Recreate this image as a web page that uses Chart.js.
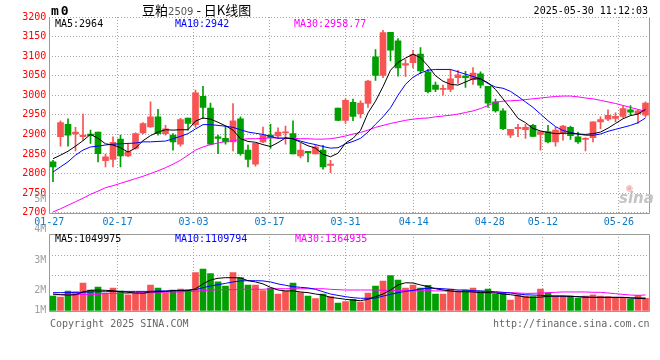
<!DOCTYPE html>
<html><head><meta charset="utf-8">
<script src="https://cdn.jsdelivr.net/npm/chart.js@4.4.1/dist/chart.umd.min.js"></script>
<style>
html,body{margin:0;padding:0;background:#fff;}
#wrap{position:relative;width:660px;height:360px;overflow:hidden;font-family:"DejaVu Sans Mono",monospace;font-size:10px;color:#000;}
canvas{position:absolute;left:0;top:0;}
.t{position:absolute;white-space:nowrap;line-height:12px;}
</style></head><body>
<div id="wrap">
<canvas id="pc" width="660" height="360"></canvas>
<canvas id="vc" width="660" height="360"></canvas>
<div class="t" style="left:51px;top:5px;font-weight:bold;font-size:13px;letter-spacing:2px;">m0</div>
<div class="t" style="left:142px;top:2px;font-size:13px;line-height:15px;font-family:'Noto Sans CJK SC',sans-serif;">豆粕<span style="font-family:'DejaVu Sans',sans-serif;font-size:10px;color:#555;">2509</span> - 日K线图</div>
<div class="t" style="right:12px;top:5px;">2025-05-30 11:12:03</div>
<div class="t" style="left:55px;top:17.5px;color:#000;">MA5:2964</div>
<div class="t" style="left:175px;top:17.5px;color:#0000ff;">MA10:2942</div>
<div class="t" style="left:294px;top:17.5px;color:#ff00ff;">MA30:2958.77</div>
<div class="t" style="left:55px;top:232.5px;color:#000;">MA5:1049975</div>
<div class="t" style="left:175px;top:232.5px;color:#0000ff;">MA10:1109794</div>
<div class="t" style="left:295px;top:232.5px;color:#ff00ff;">MA30:1364935</div>
<div class="t" style="left:50px;top:317.5px;color:#666;">Copyright 2025 SINA.COM</div>
<div class="t" style="left:493px;top:317.5px;color:#666;">http://finance.sina.com.cn</div>
<div class="t" style="left:626px;top:182px;color:#f2b0b0;font-size:11px;">◉</div>
<div class="t" style="left:619px;top:192px;color:#c4c4c4;font-size:15px;font-style:italic;font-weight:bold;font-family:'DejaVu Sans',sans-serif;">sina</div>
</div>
<script>
const dates = ['01-27',
'02-05','02-06','02-07','02-10','02-11','02-12','02-13','02-14',
'02-17','02-18','02-19','02-20','02-21',
'02-24','02-25','02-26','02-27','02-28',
'03-03','03-04','03-05','03-06','03-07',
'03-10','03-11','03-12','03-13','03-14',
'03-17','03-18','03-19','03-20','03-21',
'03-24','03-25','03-26','03-27','03-28',
'03-31','04-01','04-02','04-03',
'04-07','04-08','04-09','04-10','04-11',
'04-14','04-15','04-16','04-17','04-18',
'04-21','04-22','04-23','04-24','04-25',
'04-28','04-29','04-30',
'05-06','05-07','05-08','05-09',
'05-12','05-13','05-14','05-15','05-16',
'05-19','05-20','05-21','05-22','05-23',
'05-26','05-27','05-28','05-29','05-30'];

const open  = [2830,2894,2926,2901,2894,2901,2906,2833,2836,2888, 2845,2864,2904,2919,2945,2902,2898,2875,2942,2925,
               2997,2967,2894,2890,2881,2940,2860,2824,2881,2898, 2896,2904,2902,2845,2857,2850,2860,2821,2967,2936,
               2982,2953,2979,3098,3051,3161,3139,3077,3083,3105, 3060,3026,3015,3015,3045,3049,3040,3055,3023,2983,
               2960,2898,2915,2912,2923,2900,2907,2881,2904,2918, 2894,2887,2892,2932,2939,2941,2946,2963,2953,2949];
const high  = [2834,2935,2940,2918,2952,2911,2906,2850,2894,2898, 2877,2904,2930,2983,2964,2923,2902,2941,2942,3013,
               3023,2980,2898,2921,2979,2945,2873,2878,2919,2926, 2917,2921,2935,2877,2857,2874,2872,2834,2967,2991,
               2990,2986,3038,3117,3166,3161,3145,3091,3115,3122, 3066,3034,3026,3066,3064,3061,3071,3060,3023,2990,
               2966,2913,2926,2926,2926,2907,2923,2918,2923,2921, 2906,2892,2932,2945,2963,2955,2972,2974,2963,2983];
const low   = [2779,2870,2870,2858,2885,2877,2830,2817,2817,2817, 2843,2862,2901,2918,2898,2898,2860,2870,2911,2918,
               2940,2873,2851,2875,2858,2847,2817,2819,2879,2864, 2892,2875,2850,2840,2830,2850,2811,2802,2935,2928,
               2935,2942,2969,3038,3045,3088,3049,3048,3070,3055, 3006,3009,3000,3009,3030,3020,3028,3019,2969,2957,
               2912,2892,2894,2890,2894,2860,2878,2870,2885,2887, 2877,2858,2881,2915,2935,2932,2943,2949,2928,2945];
const close = [2817,2930,2898,2906,2898,2897,2851,2843,2880,2845, 2856,2902,2928,2945,2902,2914,2881,2938,2928,3006,
               2969,2875,2890,2881,2935,2851,2836,2877,2898,2892, 2906,2906,2850,2860,2853,2868,2817,2824,2936,2987,
               2946,2980,3036,3051,3160,3115,3070,3081,3104,3062, 3009,3015,3017,3042,3052,3045,3057,3026,2980,2960,
               2915,2913,2918,2918,2895,2907,2881,2911,2921,2897, 2881,2890,2932,2938,2949,2946,2966,2957,2960,2980];
const volume = [1280000,1190000,1710000,1650000,2410000,1800000,2060000,1510000,1970000,1710000,
                1370000,1510000,1570000,2230000,1970000,1570000,1800000,1890000,1800000,3310000,
                3630000,3220000,2520000,2150000,3310000,2870000,2230000,2230000,1740000,1970000,
                1450000,1710000,2410000,1570000,1280000,1050000,1450000,1220000, 670000, 790000,
                 990000, 760000,1540000,2150000,2580000,3050000,2670000,1970000,2230000,1970000,
                2210000,1450000,1450000,1890000,1710000,1800000,1970000,1710000,1890000,1450000,
                1540000, 930000,1370000,1280000,1220000,1890000,1540000,1280000,1280000,1280000,
                1100000,1280000,1370000,1280000,1220000,1160000,1160000,1020000,1310000,1070000];

const ma5  = [2838,2847,2857,2870,2884,2900,2890,2876,2873,2866, 2855,2865,2884,2897,2906,2912,2911,2912,2912,2934,
              2942,2939,2931,2922,2911,2889,2882,2880,2874,2869, 2879,2891,2889,2880,2871,2865,2849,2843,2852,2878,
              2890,2910,2955,2985,3022,3064,3084,3095,3105,3096, 3075,3050,3036,3028,3026,3034,3042,3042,3032,3015,
              2991,2967,2941,2930,2915,2909,2905,2902,2903,2903, 2901,2900,2902,2906,2916,2928,2940,2948,2952,2964];
const ma10 = [2804,2817,2830,2847,2860,2868,2870,2873,2875,2876, 2877,2878,2881,2881,2882,2883,2889,2895,2902,2914,
              2925,2925,2923,2921,2918,2912,2906,2903,2900,2895, 2890,2891,2889,2883,2878,2874,2869,2865,2866,2876,
              2882,2890,2906,2926,2945,2968,3000,3028,3046,3057, 3064,3066,3066,3066,3060,3054,3048,3042,3030,3021,
              3018,3010,2997,2983,2969,2952,2935,2920,2910,2905, 2901,2898,2898,2901,2908,2913,2918,2923,2930,2942];
const ma30 = [2702,2710,2719,2728,2737,2747,2755,2764,2769,2775, 2781,2787,2793,2800,2807,2815,2824,2834,2847,2860,
              2868,2874,2878,2882,2884,2887,2889,2889,2890,2891, 2891,2890,2890,2889,2889,2888,2888,2889,2892,2896,
              2901,2905,2911,2918,2923,2928,2932,2936,2939,2941, 2942,2945,2947,2949,2952,2956,2960,2966,2974,2982,
              2985,2986,2987,2989,2991,2993,2995,2997,2998,2998, 2996,2993,2991,2987,2983,2979,2974,2969,2964,2959];

const vma5  = [1450000,1390000,1360000,1390000,1630000,1770000,1800000,1770000,1740000,1650000,
               1600000,1540000,1510000,1630000,1650000,1680000,1740000,1740000,1740000,1910000,
               2330000,2670000,2820000,2870000,2870000,2850000,2610000,2500000,2330000,2030000,
               1800000,1720000,1720000,1630000,1570000,1450000,1360000,1160000,1080000, 990000,
                920000, 870000, 990000,1220000,1450000,1800000,2240000,2430000,2410000,2240000,
               2090000,1910000,1800000,1720000,1650000,1650000,1630000,1570000,1570000,1540000,
               1450000,1390000,1300000,1180000,1160000,1180000,1250000,1270000,1270000,1250000,
               1220000,1180000,1160000,1160000,1160000,1160000,1160000,1100000,1080000,1049975];
const vma10 = [1570000,1570000,1570000,1600000,1600000,1630000,1650000,1650000,1680000,1680000,
               1680000,1680000,1680000,1680000,1720000,1720000,1740000,1770000,1800000,1830000,
               2000000,2150000,2260000,2380000,2500000,2590000,2610000,2610000,2590000,2500000,
               2330000,2210000,2090000,2030000,1980000,1860000,1650000,1450000,1330000,1220000,
               1130000,1080000,1080000,1100000,1270000,1420000,1570000,1680000,1770000,1890000,
               1950000,1950000,1910000,1860000,1800000,1800000,1740000,1720000,1680000,1650000,
               1600000,1540000,1450000,1390000,1360000,1340000,1300000,1270000,1270000,1250000,
               1220000,1180000,1160000,1160000,1160000,1160000,1160000,1130000,1100000,1109794];
const vma30 = [1390000,1390000,1390000,1390000,1420000,1420000,1420000,1510000,1510000,1510000,
               1510000,1570000,1570000,1570000,1570000,1630000,1630000,1630000,1680000,1680000,
               1740000,1800000,1830000,1830000,1830000,1860000,1860000,1860000,1860000,1910000,
               1910000,1910000,1910000,1910000,1910000,1910000,1910000,1860000,1830000,1800000,
               1800000,1800000,1800000,1800000,1770000,1770000,1770000,1740000,1740000,1740000,
               1740000,1720000,1720000,1680000,1680000,1680000,1650000,1650000,1630000,1600000,
               1570000,1570000,1540000,1510000,1510000,1540000,1570000,1600000,1630000,1630000,
               1630000,1630000,1600000,1600000,1540000,1480000,1420000,1360000,1340000,1364935];

const xTickLabels = ['01-27','02-17','03-03','03-17','03-31','04-14','04-28','05-12','05-26'];
const priceMin = 2700, priceMax = 3200, priceStep = 50;
const volTickLabels = ['1M','2M','3M','4M','5M'];
const volMax = 6670000;

// ---- styling / layout ----
const RED = '#f75454', GREEN = '#009f00';
const GRID = '#a6a6a6', FRAME = '#9a9a9a';
const MONO = 'DejaVu Sans Mono';
const N = dates.length;
const PLOT_LEFT = 49.25, PLOT_RIGHT = 649.25;
const idx = dates.map((d, i) => i);
const candleColor = idx.map(i => close[i] >= open[i] ? RED : GREEN);
const tickVals = xTickLabels.map(l => -0.5 + dates.indexOf(l) * N / (N - 1));

function pts(arr) { return idx.map(i => ({x: i, y: arr[i]})); }
function lineDs(arr, color) {
  return {type: 'line', data: pts(arr), borderColor: color, borderWidth: 1, pointRadius: 0,
          pointHoverRadius: 0, fill: false, tension: 0, spanGaps: true};
}
function xScale(showLabels) {
  return {
    type: 'linear', min: -0.5, max: N - 0.5, offset: false, bounds: 'data',
    afterBuildTicks: s => { s.ticks = tickVals.map(v => ({value: v})); },
    ticks: {display: showLabels, autoSkip: false, maxRotation: 0, padding: 4, color: '#0878c8',
            font: {family: MONO, size: 10}, callback: (v, i) => xTickLabels[i]},
    grid: {color: GRID, lineWidth: 1, drawTicks: false, offset: false},
    border: {display: false, dash: [1, 2]},
    afterFit: s => { s.height = showLabels ? 20 : 0; }
  };
}
function framePlugin(dottedTop) {
  return {id: 'frame', beforeDatasetsDraw(chart) {
    const {ctx, chartArea: a} = chart;
    const l = Math.round(a.left - 0.5) + 0.5, r = Math.round(a.right - 0.5) + 0.5;
    const t = Math.round(a.top) + 0.5, b = Math.round(a.bottom) + 0.5;
    ctx.save(); ctx.strokeStyle = FRAME; ctx.lineWidth = 1;
    ctx.beginPath();
    if (dottedTop) { ctx.moveTo(l, t); ctx.lineTo(l, b); ctx.lineTo(r, b); ctx.lineTo(r, t); }
    else { ctx.rect(l, t, r - l, b - t); }
    ctx.stroke(); ctx.restore();
  }};
}
const volLabelPlugin = {id: 'volLabels', afterDraw(chart) {
  const {ctx, chartArea: a} = chart;
  ctx.save(); ctx.fillStyle = '#a0a0a0'; ctx.font = '10px "' + MONO + '"';
  ctx.textAlign = 'right'; ctx.textBaseline = 'middle';
  volTickLabels.forEach((t, k) => {
    const y = Math.min(a.bottom, a.bottom + 10 - 30.3 * k);
    ctx.fillText(t, a.left - 3, y);
  });
  ctx.restore();
}};

Chart.defaults.font.family = MONO;

new Chart(document.getElementById('pc'), {
  type: 'bar',
  data: {datasets: [
    lineDs(ma5, '#000000'),
    lineDs(ma10, '#0000ff'),
    lineDs(ma30, '#ff00ff'),
    {type: 'bar', data: idx.map(i => ({x: i, y: [Math.min(open[i], close[i]), Math.max(open[i], close[i])]})),
     backgroundColor: candleColor, borderWidth: 0, barThickness: 6, grouped: false, minBarLength: 1},
    {type: 'bar', data: idx.map(i => ({x: i, y: [low[i], high[i]]})),
     backgroundColor: candleColor, borderWidth: 0, barThickness: 1, grouped: false}
  ]},
  options: {
    responsive: false, animation: false, events: [],
    layout: {padding: {left: 0, top: 17, right: 660 - PLOT_RIGHT, bottom: 127.3}},
    plugins: {legend: {display: false}, tooltip: {enabled: false}},
    scales: {
      x: xScale(true),
      y: {min: priceMin, max: priceMax,
          ticks: {stepSize: priceStep, color: '#ff0000', padding: 3, font: {family: MONO, size: 10},
                  callback: v => String(v)},
          grid: {color: GRID, lineWidth: 1, drawTicks: false},
          border: {display: false, dash: [1, 2]},
          afterFit: s => { s.width = PLOT_LEFT; }}
    }
  },
  plugins: [framePlugin(true)]
});

new Chart(document.getElementById('vc'), {
  type: 'bar',
  data: {datasets: [
    lineDs(vma5, '#000000'),
    lineDs(vma10, '#0000ff'),
    lineDs(vma30, '#ff00ff'),
    {type: 'bar', data: idx.map(i => ({x: i, y: volume[i]})),
     backgroundColor: candleColor, borderWidth: 0, barThickness: 6, grouped: false}
  ]},
  options: {
    responsive: false, animation: false, events: [],
    layout: {padding: {left: 0, top: 234, right: 660 - PLOT_RIGHT, bottom: 49.3}},
    plugins: {legend: {display: false}, tooltip: {enabled: false}},
    scales: {
      x: xScale(false),
      y: {min: 0, max: volMax,
          afterBuildTicks: s => { s.ticks = [0.456, 0.717].map(f => ({value: volMax * f})); },
          ticks: {display: false},
          grid: {color: GRID, lineWidth: 1, drawTicks: false},
          border: {display: false, dash: [1, 2]},
          afterFit: s => { s.width = PLOT_LEFT; }}
    }
  },
  plugins: [framePlugin(false), volLabelPlugin]
});
</script>
</body></html>
